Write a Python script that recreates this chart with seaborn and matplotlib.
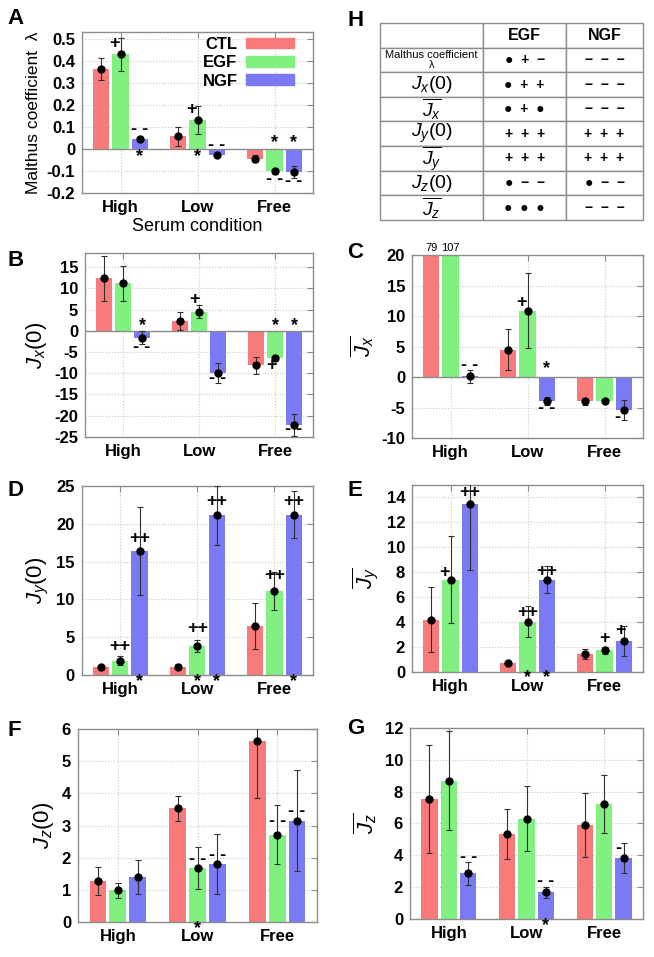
import numpy as np
import pandas as pd
import matplotlib
matplotlib.use('Agg')
import matplotlib.pyplot as plt
import matplotlib.patches as mpatches
from matplotlib.ticker import FuncFormatter
import seaborn as sns

# categories
conditions = ['High', 'Low', 'Free']
factors = ['CTL', 'EGF', 'NGF']
bar_colors = ['#f87a7a', '#80f080', '#7a7af5']

# values: one row per factor (CTL, EGF, NGF), one column per condition
malthus_mean = [[0.363, 0.057, -0.044], [0.431, 0.133, -0.101], [0.045, -0.027, -0.106]]
malthus_err = [[0.050, 0.045, 0.016], [0.075, 0.063, 0.011], [0.006, 0.004, 0.027]]

jx0_mean = [[12.4, 2.3, -8.1], [11.2, 4.5, -6.5], [-1.6, -10.0, -22.1]]
jx0_err = [[5.3, 2.1, 2.0], [4.1, 1.5, 0.3], [1.5, 2.3, 2.6]]

jxbar_mean = [[79, 4.5, -4.0], [107, 10.9, -3.9], [0.1, -3.9, -5.4]]
jxbar_err = [[0, 3.4, 0.6], [0, 6.1, 0.2], [1.0, 0.7, 1.7]]

jy0_mean = [[1.0, 1.1, 6.5], [1.9, 3.85, 11.1], [16.4, 21.1, 21.2]]
jy0_err = [[0.15, 0.3, 3.05], [0.55, 0.75, 2.55], [5.8, 3.9, 3.1]]

jybar_mean = [[4.2, 0.72, 1.42], [7.4, 4.05, 1.74], [13.5, 7.4, 2.48]]
jybar_err = [[2.6, 0.1, 0.4], [3.5, 1.25, 0.27], [5.3, 1.1, 1.2]]

jz0_mean = [[1.28, 3.53, 5.62], [0.98, 1.69, 2.72], [1.40, 1.81, 3.15]]
jz0_err = [[0.43, 0.39, 1.75], [0.23, 0.65, 0.92], [0.52, 0.94, 1.58]]

jzbar_mean = [[7.56, 5.34, 5.9], [8.69, 6.3, 7.22], [2.86, 1.67, 3.82]]
jzbar_err = [[3.4, 1.58, 2.0], [3.1, 2.03, 1.83], [0.7, 0.35, 0.96]]

# significance marks: (condition, factor, text, y value, x shift in bar widths)
marks_a = [('High', 'EGF', '+', 0.478, -0.35), ('High', 'NGF', '- -', 0.088, 0), ('High', 'NGF', '*', -0.035, 0),
           ('Low', 'EGF', '+', 0.178, -0.35), ('Low', 'EGF', '*', -0.035, 0), ('Low', 'NGF', '- -', 0.016, 0),
           ('Free', 'EGF', '*', 0.03, 0), ('Free', 'EGF', '- -', -0.14, 0),
           ('Free', 'NGF', '*', 0.03, 0), ('Free', 'NGF', '- -', -0.148, 0)]
marks_b = [('High', 'NGF', '*', 1.3, 0), ('High', 'NGF', '- -', -3.9, 0),
           ('Low', 'EGF', '+', 7.4, -0.3), ('Low', 'NGF', '- -', -11.2, 0),
           ('Free', 'EGF', '*', 1.3, 0), ('Free', 'EGF', '+', -8.1, -0.2),
           ('Free', 'NGF', '*', 1.3, 0), ('Free', 'NGF', '- -', -23.2, 0)]
marks_c = [('High', 'NGF', '- -', 1.9, 0), ('Low', 'EGF', '+', 12.3, -0.35),
           ('Low', 'NGF', '*', 1.4, 0), ('Low', 'NGF', '- -', -5.2, 0), ('Free', 'NGF', '-', -6.6, -0.4)]
marks_d = [('High', 'EGF', '++', 3.8, 0), ('High', 'NGF', '++', 18.1, 0), ('High', 'NGF', '*', -0.9, 0),
           ('Low', 'EGF', '++', 6.1, 0), ('Low', 'NGF', '++', 23.0, 0),
           ('Low', 'EGF', '*', -0.9, 0), ('Low', 'NGF', '*', -0.9, 0),
           ('Free', 'EGF', '++', 13.1, 0), ('Free', 'NGF', '++', 23.0, 0), ('Free', 'NGF', '*', -0.9, 0)]
marks_e = [('High', 'EGF', '+', 8.0, -0.35), ('High', 'NGF', '++', 14.4, 0),
           ('Low', 'EGF', '++', 4.8, 0), ('Low', 'NGF', '++', 8.1, 0),
           ('Low', 'EGF', '*', -0.45, 0), ('Low', 'NGF', '*', -0.45, 0),
           ('Free', 'EGF', '+', 2.67, 0), ('Free', 'NGF', '+', 3.33, -0.2)]
marks_f = [('Low', 'EGF', '- -', 1.94, 0), ('Low', 'NGF', '- -', 2.08, 0), ('Low', 'EGF', '*', -0.2, 0),
           ('Free', 'EGF', '- -', 3.13, 0), ('Free', 'NGF', '- -', 3.44, 0)]
marks_g = [('High', 'NGF', '- -', 3.87, 0), ('Low', 'NGF', '- -', 2.37, 0), ('Low', 'NGF', '*', -0.4, 0),
           ('Free', 'NGF', '-', 4.46, -0.3)]

# table H
table_rows = ['Malthus coefficient\nλ', '$J_x(0)$', r'$\overline{J_x}$', '$J_y(0)$',
              r'$\overline{J_y}$', '$J_z(0)$', r'$\overline{J_z}$']
table_egf = ['●  +  −', '●  +  +', '●  +  ●', '+  +  +', '+  +  +', '●  −  −', '●  ●  ●']
table_ngf = ['−  −  −', '−  −  −', '−  −  −', '+  +  +', '+  +  +', '●  −  −', '−  −  −']

sns.set_style('white')
plt.rcParams['font.family'] = ['Liberation Sans', 'DejaVu Sans']
plt.rcParams['mathtext.fontset'] = 'custom'
plt.rcParams['mathtext.rm'] = 'Liberation Sans'
plt.rcParams['mathtext.it'] = 'Liberation Sans:italic'
plt.rcParams['axes.unicode_minus'] = False
for key in ['text.color', 'axes.labelcolor', 'xtick.labelcolor', 'ytick.labelcolor']:
    plt.rcParams[key] = 'black'

frame_col = '#8c8c8c'


def draw_panel(ax, mean, err, ylim, yticks, ylabel, marks, zero_line=False, ylabel_size=16):
    df = pd.DataFrame([(c, f, mean[i][j], err[i][j])
                       for i, f in enumerate(factors) for j, c in enumerate(conditions)],
                      columns=['condition', 'factor', 'value', 'err'])
    sns.barplot(data=df, x='condition', y='value', hue='factor', order=conditions,
                hue_order=factors, palette=bar_colors, saturation=1, width=0.75, gap=0.16,
                errorbar=None, linewidth=0, legend=False, ax=ax)
    ax.set_ylim(*ylim)
    ax.set_xlim(-0.5, 2.5)

    # bar centres from the containers (one container per factor)
    centres = {}
    bar_w = ax.containers[0][0].get_width()
    for i, f in enumerate(factors):
        for j, c in enumerate(conditions):
            p = ax.containers[i][j]
            centres[(c, f)] = p.get_x() + p.get_width() / 2
    xs = [centres[(c, f)] for c, f in zip(df['condition'], df['factor'])]
    ax.errorbar(xs, df['value'], yerr=df['err'], fmt='o', color='black', ecolor='#303030',
                ms=5, elinewidth=0.8, capsize=2.5, capthick=0.8, zorder=5)

    # values that run off the top of the axes
    for x, v in zip(xs, df['value']):
        if v > ylim[1]:
            ax.text(x, ylim[1] + 0.01 * (ylim[1] - ylim[0]), f'{v:g}', ha='center', va='bottom',
                    fontsize=8)

    for c, f, txt, y, dx in marks:
        ax.text(centres[(c, f)] + dx * bar_w, y, txt, ha='center', va='center',
                fontsize=13, fontweight='bold', clip_on=False, zorder=6)

    if zero_line:
        ax.axhline(0, color=frame_col, lw=1.0, zorder=1)
    ax.set_yticks(yticks)
    ax.yaxis.set_major_formatter(FuncFormatter(lambda v, p: f'{round(v, 3):g}'))
    ax.grid(True, ls=':', color='#c8c8c8', lw=0.8)
    ax.set_axisbelow(True)
    for s in ax.spines.values():
        s.set_color(frame_col)
        s.set_linewidth(1.0)
    ax.tick_params(direction='in', top=True, right=True, length=4, color=frame_col,
                   labelsize=12, pad=5, labelcolor='black')
    for lab in ax.get_xticklabels() + ax.get_yticklabels():
        lab.set_fontweight('bold')
    ax.set_xlabel('')
    ax.set_ylabel(ylabel, fontsize=ylabel_size, color='black')


fig = plt.figure(figsize=(6.54, 9.57), dpi=100)

ax_a = fig.add_axes([0.1254, 0.7983, 0.3532, 0.1683])
ax_b = fig.add_axes([0.130, 0.5434, 0.3486, 0.1922])
ax_c = fig.add_axes([0.630, 0.5423, 0.3532, 0.1912])
ax_d = fig.add_axes([0.1249, 0.2947, 0.3537, 0.1975])
ax_e = fig.add_axes([0.630, 0.2978, 0.3532, 0.1954])
ax_f = fig.add_axes([0.1193, 0.0366, 0.3654, 0.2016])
ax_g = fig.add_axes([0.6269, 0.0397, 0.3563, 0.1996])
ax_h = fig.add_axes([0.581, 0.7701, 0.4022, 0.2059])

draw_panel(ax_a, malthus_mean, malthus_err, (-0.2, 0.532), np.arange(-0.2, 0.51, 0.1),
           'Malthus coefficient  λ', marks_a, zero_line=True, ylabel_size=12.5)
ax_a.set_xlabel('Serum condition', fontsize=13, labelpad=2, color='black')
handles = [mpatches.Patch(color=c, label=f) for c, f in zip(bar_colors, factors)]
ax_a.legend(handles=handles, loc='upper right', frameon=False, markerfirst=False,
            prop={'weight': 'bold', 'size': 12}, handlelength=2.9, handleheight=0.6,
            labelspacing=0.2, handletextpad=0.5, borderaxespad=0.1, borderpad=0.2,
            bbox_to_anchor=(0.94, 1.0))

draw_panel(ax_b, jx0_mean, jx0_err, (-25, 18.3), np.arange(-25, 16, 5), '$J_x(0)$', marks_b,
           zero_line=True)
draw_panel(ax_c, jxbar_mean, jxbar_err, (-10, 20), np.arange(-10, 21, 5), r'$\overline{J_x}$',
           marks_c, zero_line=True)
draw_panel(ax_d, jy0_mean, jy0_err, (0, 25), np.arange(0, 26, 5), '$J_y(0)$', marks_d)
draw_panel(ax_e, jybar_mean, jybar_err, (0, 15), np.arange(0, 15, 2), r'$\overline{J_y}$', marks_e)
draw_panel(ax_f, jz0_mean, jz0_err, (0, 6), np.arange(0, 7, 1), '$J_z(0)$', marks_f)
draw_panel(ax_g, jzbar_mean, jzbar_err, (0, 12), np.arange(0, 13, 2), r'$\overline{J_z}$', marks_g)

# table H
ax_h.axis('off')
cells = [['', 'EGF', 'NGF']] + [[r, e, n] for r, e, n in zip(table_rows, table_egf, table_ngf)]
tbl = ax_h.table(cellText=cells, colWidths=[0.392, 0.316, 0.292], bbox=[0, 0, 1, 1],
                 cellLoc='center')
tbl.auto_set_font_size(False)
for (r, c), cell in tbl.get_celld().items():
    cell.set_edgecolor(frame_col)
    cell.set_linewidth(1.0)
    t = cell.get_text()
    t.set_color('black')
    if r == 0:
        t.set_fontsize(11.5)
        t.set_fontweight('bold')
    elif c == 0:
        t.set_fontsize(8 if r == 1 else 14)
        if r == 1:
            t.set_linespacing(0.9)
    else:
        t.set_fontsize(10)
        t.set_fontweight('bold')

for lab, x, y in [('A', 0.011, 0.992), ('B', 0.011, 0.739), ('C', 0.531, 0.747), ('D', 0.011, 0.498),
                  ('E', 0.531, 0.498), ('F', 0.011, 0.248), ('G', 0.531, 0.250), ('H', 0.531, 0.990)]:
    fig.text(x, y, lab, fontsize=16, fontweight='bold', va='top', ha='left', color='black')

fig.savefig('out.png', dpi=100)
